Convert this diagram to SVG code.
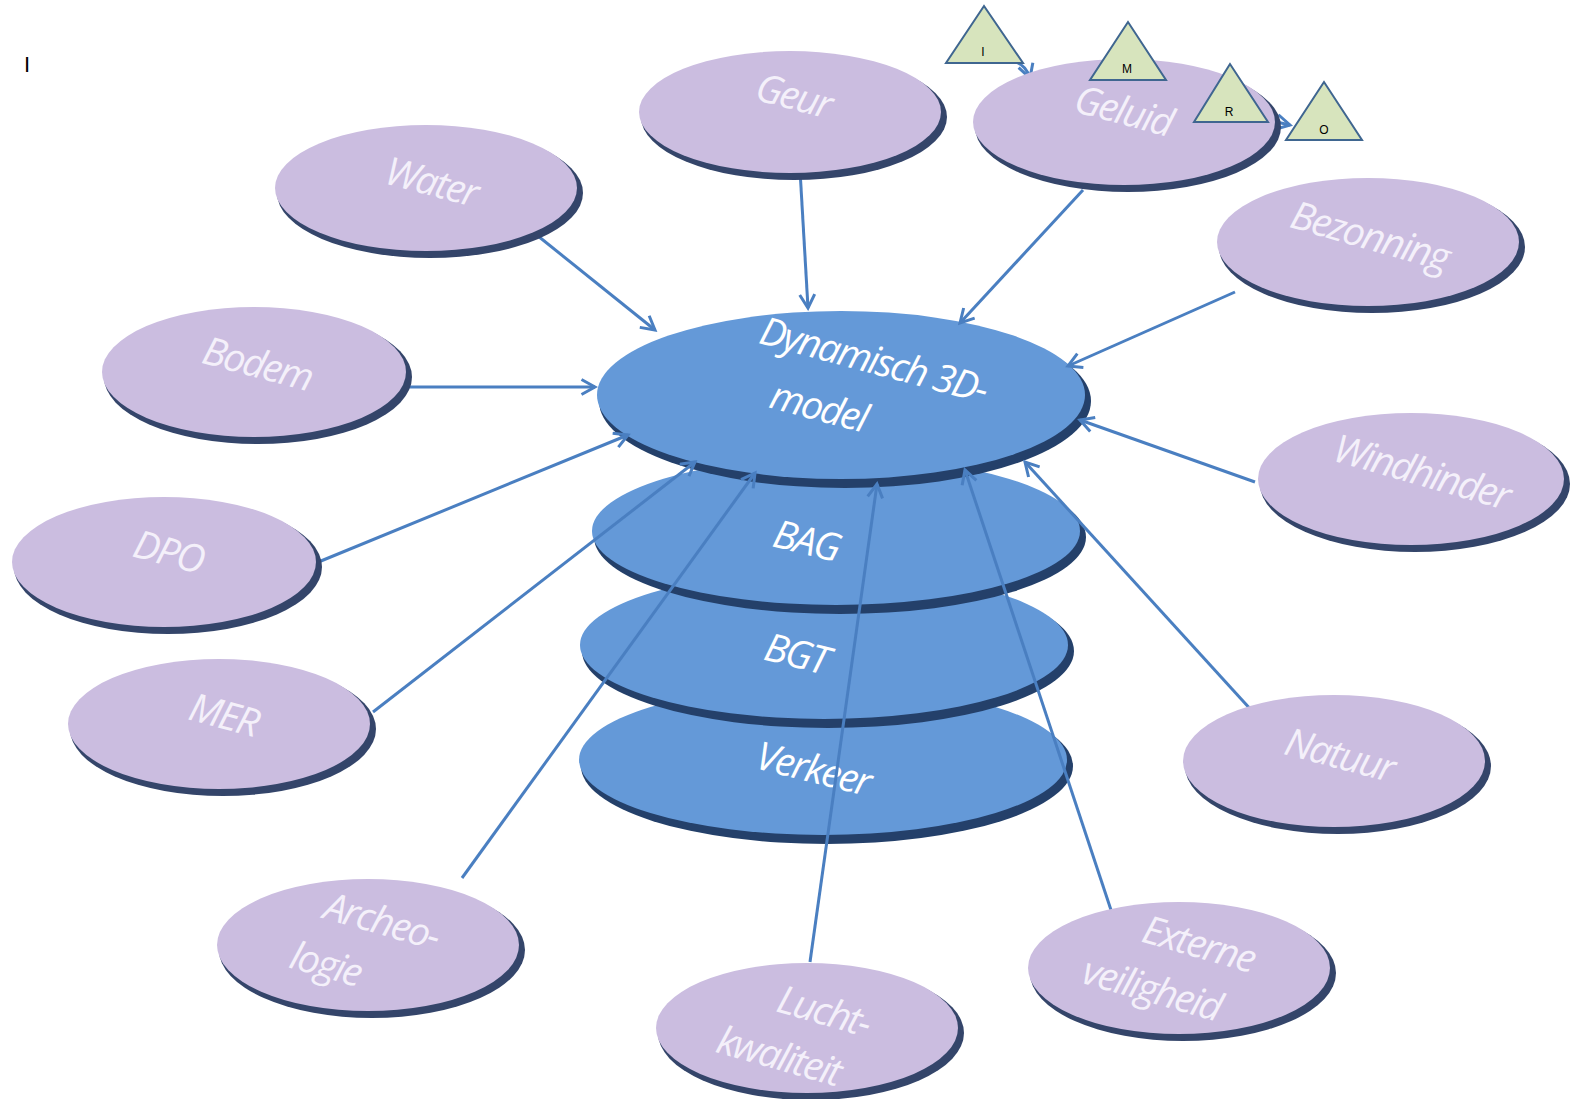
<svg xmlns="http://www.w3.org/2000/svg" width="1571" height="1099" viewBox="0 0 1571 1099">
<defs>
<style>
.rim{fill:#34456a}
.p{fill:#cbbde0}
.brim{fill:#24406a}
.b{fill:#6499d8}
.t{font-family:"Open Sans","Liberation Sans",sans-serif;font-style:italic;font-size:39px;fill:#f4f0fa;text-anchor:middle;letter-spacing:-2px}
.bt{fill:#ffffff}
.tri{fill:#d7e4bd;stroke:#3f6690;stroke-width:2}
.tl{font-family:"Liberation Sans",Arial,sans-serif;font-size:12px;fill:#000;text-anchor:middle}
.c{stroke:#4a7fc1;stroke-width:3;fill:none;marker-end:url(#ah)}
</style>
<marker id="ah" viewBox="0 0 12 12" markerWidth="6" markerHeight="6" refX="10" refY="6" orient="auto" markerUnits="strokeWidth">
<path d="M1,1 L10,6 L1,11" fill="none" stroke="#4a7fc1" stroke-width="2"/>
</marker>
</defs>
<rect width="1571" height="1099" fill="#ffffff"/>
<text x="24" y="72" font-family="Liberation Sans,Arial,sans-serif" font-size="22" fill="#000">I</text>

<g id="n-verkeer"><ellipse class="brim" cx="827" cy="766" rx="246" ry="78"/><ellipse class="b" cx="823" cy="760" rx="244" ry="75"/><text class="t bt" transform="translate(810,782) rotate(14)">Verkeer</text></g>
<g id="n-bgt"><ellipse class="brim" cx="828" cy="651" rx="246" ry="77"/><ellipse class="b" cx="824" cy="645" rx="244" ry="74"/><text class="t bt" transform="translate(793,667) rotate(14)">BGT</text></g>
<g id="n-bag"><ellipse class="brim" cx="840" cy="537" rx="246" ry="77"/><ellipse class="b" cx="836" cy="531" rx="244" ry="74"/><text class="t bt" transform="translate(803,554) rotate(14)">BAG</text></g>
<g id="n-model"><ellipse class="brim" cx="845" cy="401" rx="246" ry="87"/><ellipse class="b" cx="841" cy="395" rx="244" ry="84"/><text class="t bt" transform="translate(870,373) rotate(15)">Dynamisch 3D-</text><text class="t bt" transform="translate(815,420) rotate(15)">model</text></g>

<g id="connectors">
<path class="c" d="M533,232 L655,330"/>
<path class="c" d="M800,170 L808,308"/>
<path class="c" d="M1083,190 L960,323"/>
<path class="c" d="M1235,292 L1068,366"/>
<path class="c" d="M1255,482 L1080,420"/>
<path class="c" d="M1253,712 L1025,462"/>
<path class="c" d="M1112,913 L965,470"/>
<path class="c" d="M810,962 L877,484"/>
<path class="c" d="M462,878 L755,473"/>
<path class="c" d="M373,712 L695,462"/>
<path class="c" d="M316,563 L628,435"/>
<path class="c" d="M404,387 L595,387"/>
<path class="c" d="M1016,62 Q1026,66 1030,78"/>
<path class="c" d="M1272,121 L1290,125"/>
</g>

<g id="n-water"><ellipse class="rim" cx="430" cy="193" rx="153" ry="65"/><ellipse class="p" cx="426" cy="188" rx="151" ry="63"/><text class="t" transform="translate(428,195) rotate(15)">Water</text></g>
<g id="n-geur"><ellipse class="rim" cx="794" cy="117" rx="153" ry="63"/><ellipse class="p" cx="790" cy="112" rx="151" ry="61"/><text class="t" transform="translate(790,109) rotate(15)">Geur</text></g>
<g id="n-geluid"><ellipse class="rim" cx="1128" cy="127" rx="153" ry="65"/><ellipse class="p" cx="1124" cy="122" rx="151" ry="63"/><text class="t" transform="translate(1120,124) rotate(15)">Geluid</text></g>
<g id="n-bezonning"><ellipse class="rim" cx="1372" cy="247" rx="153" ry="66"/><ellipse class="p" cx="1368" cy="242" rx="151" ry="64"/><text class="t" transform="translate(1366,249) rotate(16)">Bezonning</text></g>
<g id="n-windhinder"><ellipse class="rim" cx="1415" cy="484" rx="155" ry="68"/><ellipse class="p" cx="1411" cy="479" rx="153" ry="66"/><text class="t" transform="translate(1418,485) rotate(16)">Windhinder</text></g>
<g id="n-natuur"><ellipse class="rim" cx="1338" cy="766" rx="153" ry="68"/><ellipse class="p" cx="1334" cy="761" rx="151" ry="66"/><text class="t" transform="translate(1336,768) rotate(15)">Natuur</text></g>
<g id="n-externe"><ellipse class="rim" cx="1183" cy="973" rx="153" ry="68"/><ellipse class="p" cx="1179" cy="968" rx="151" ry="66"/><text class="t" transform="translate(1195,957) rotate(16)">Externe</text><text class="t" transform="translate(1148,1002) rotate(16)">veiligheid</text></g>
<g id="n-lucht"><ellipse class="rim" cx="811" cy="1033" rx="153" ry="67"/><ellipse class="p" cx="807" cy="1028" rx="151" ry="65"/><text class="t" transform="translate(820,1024) rotate(16)">Lucht-</text><text class="t" transform="translate(775,1069) rotate(16)">kwaliteit</text></g>
<g id="n-archeo"><ellipse class="rim" cx="372" cy="950" rx="153" ry="68"/><ellipse class="p" cx="368" cy="945" rx="151" ry="66"/><text class="t" transform="translate(378,934) rotate(16)">Archeo-</text><text class="t" transform="translate(322,977) rotate(16)">logie</text></g>
<g id="n-mer"><ellipse class="rim" cx="223" cy="729" rx="153" ry="67"/><ellipse class="p" cx="219" cy="724" rx="151" ry="65"/><text class="t" transform="translate(220,728) rotate(15)">MER</text></g>
<g id="n-dpo"><ellipse class="rim" cx="168" cy="567" rx="154" ry="67"/><ellipse class="p" cx="164" cy="562" rx="152" ry="65"/><text class="t" transform="translate(165,565) rotate(15)">DPO</text></g>
<g id="n-bodem"><ellipse class="rim" cx="258" cy="377" rx="154" ry="67"/><ellipse class="p" cx="254" cy="372" rx="152" ry="65"/><text class="t" transform="translate(254,377) rotate(15)">Bodem</text></g>

<g id="n-tri-i"><polygon class="tri" points="984,6 946,63 1023,63"/><text class="tl" x="983" y="56">I</text></g>
<g id="n-tri-m"><polygon class="tri" points="1128,22 1090,80 1166,80"/><text class="tl" x="1127" y="73">M</text></g>
<g id="n-tri-r"><polygon class="tri" points="1230,64 1194,122 1268,122"/><text class="tl" x="1229" y="116">R</text></g>
<g id="n-tri-o"><polygon class="tri" points="1324,82 1286,140 1362,140"/><text class="tl" x="1324" y="134">O</text></g>
</svg>
